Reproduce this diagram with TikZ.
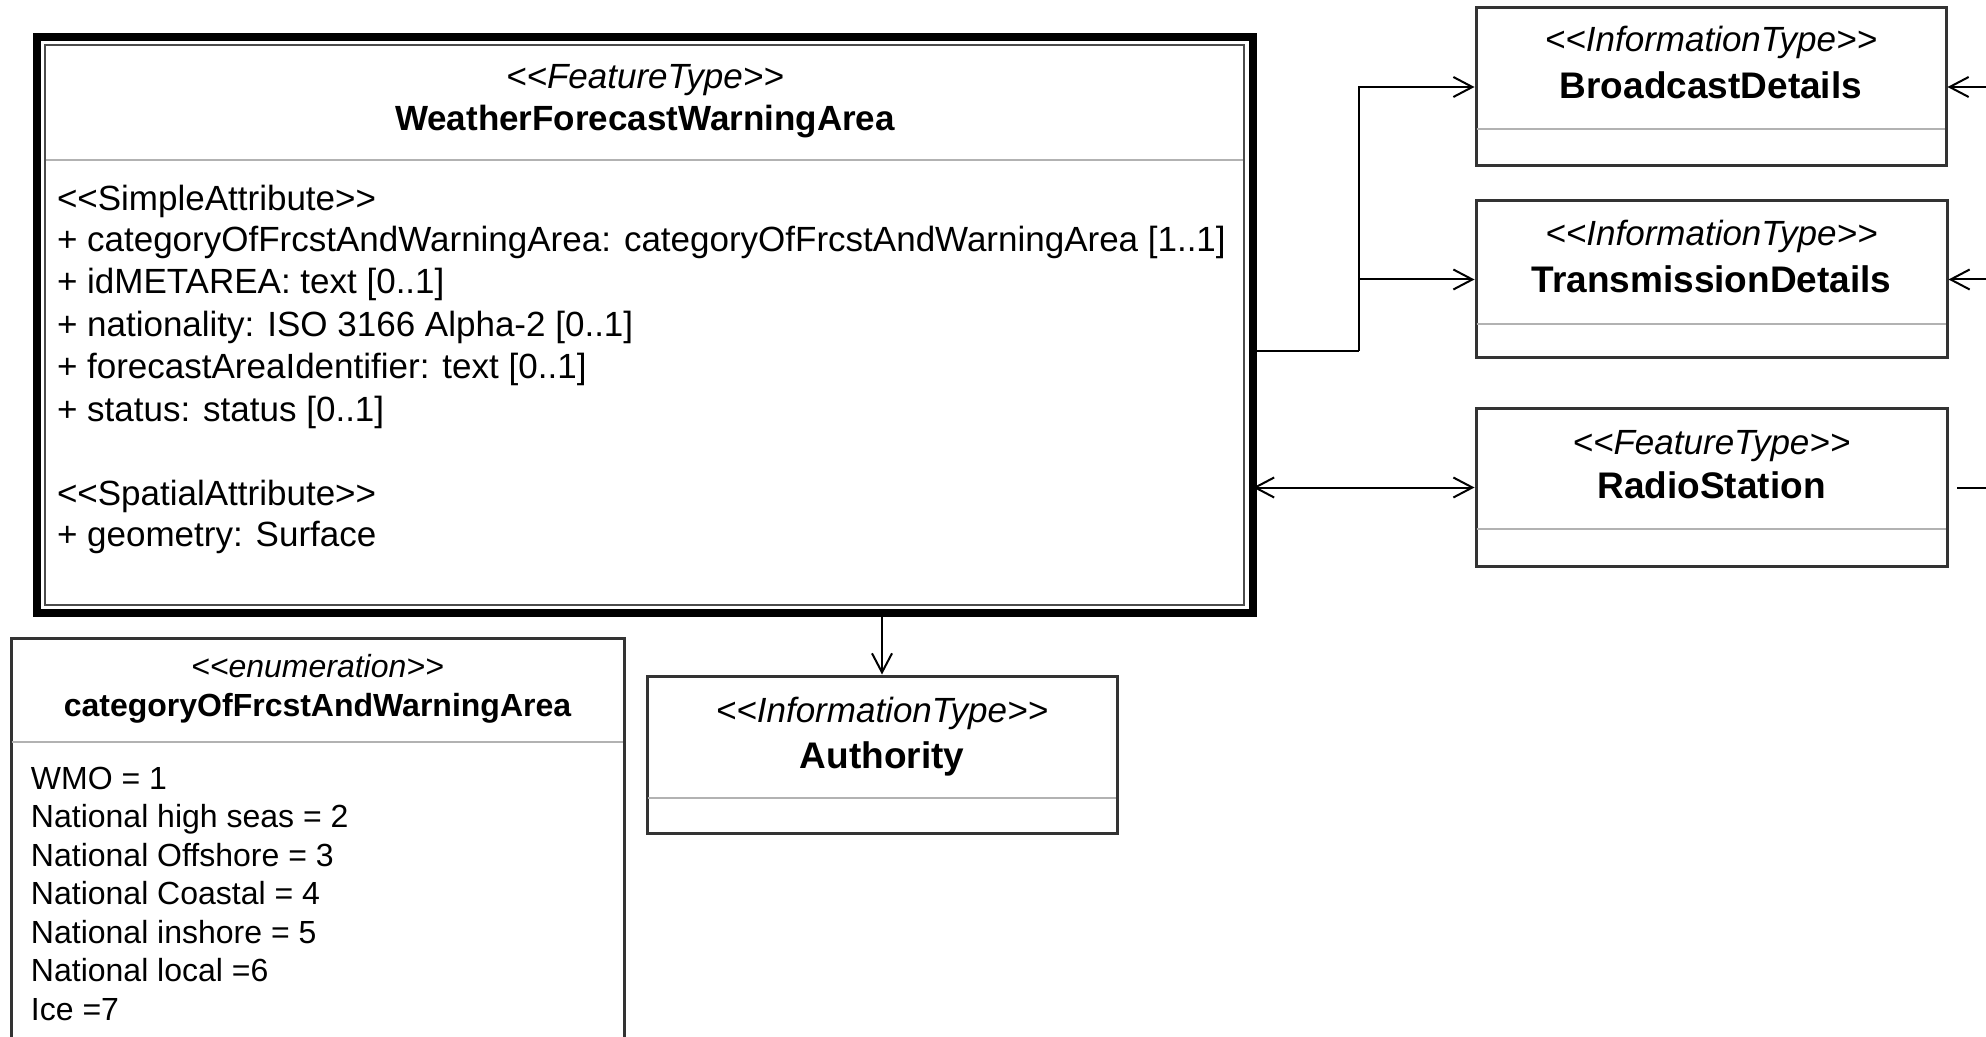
\documentclass[tikz,border=0pt]{standalone}
\usepackage{fontspec}
\setmainfont{Liberation Sans}
\usetikzlibrary{arrows.meta}

\begin{document}
\begin{tikzpicture}[x=0.5pt,y=-0.5pt,line width=1pt,
  >={Straight Barb[length=9.5pt,width=10pt]},
  umlbox/.style={draw=black!80,line width=1.5pt,rectangle,inner sep=0pt},
  sep/.style={draw=black!30,line width=1pt},
  stereo/.style={font=\fontsize{17.5}{21}\selectfont\itshape,anchor=base,inner sep=0pt},
  cname/.style={font=\fontsize{18.5}{21}\selectfont\bfseries,anchor=base,inner sep=0pt},
  attr/.style={font=\fontsize{17.5}{21}\selectfont,anchor=base west,inner sep=0pt},
  estereo/.style={font=\fontsize{16}{19}\selectfont\itshape,anchor=base,inner sep=0pt},
  ename/.style={font=\fontsize{16}{19}\selectfont\bfseries,anchor=base,inner sep=0pt},
  eitem/.style={font=\fontsize{16}{19}\selectfont,anchor=base west,inner sep=0pt}]
  \useasboundingbox[fill=white] (0,0) rectangle (1986,1037);

  % feature type with the thick frame
  \node (wfa) at (645,325) [draw,rectangle,line width=4pt,minimum width=608pt,minimum height=288pt] {};
  \draw[draw=black!70,line width=1.25pt] (45,45) rectangle (1244,605);
  \draw[sep] (46,160) -- (1243,160);
  \node (wfast) at (645,88.5) [stereo] {<{}<FeatureType>{}>};
  \node (wfanm) at (645,130.5) [cname,font=\fontsize{17.5}{21}\selectfont\bfseries] {WeatherForecastWarningArea};
  \node (sa) at (56,210.5) [attr] {<{}<SimpleAttribute>{}>};
  \node (at1) at (56,251.5) [attr] {+ categoryOfFrcstAndWarningArea: categoryOfFrcstAndWarningArea [1..1]};
  \node (at2) at (56,293.5) [attr] {+ idMETAREA: text [0..1]};
  \node (at3) at (56,336.5) [attr] {+ nationality: ISO 3166 Alpha-2 [0..1]};
  \node (at4) at (56,378.5) [attr] {+ forecastAreaIdentifier: text [0..1]};
  \node (at5) at (56,421.5) [attr] {+ status: status [0..1]};
  \node (spa) at (56,505.5) [attr] {<{}<SpatialAttribute>{}>};
  \node (at6) at (56,546.5) [attr] {+ geometry: Surface};

  % information types and radio station
  \node (bd) at (1711,87) [umlbox,minimum width=235pt,minimum height=79pt] {};
  \draw[sep] (1477,129) -- (1945,129);
  \node (bdst) at (1711,52) [stereo] {<{}<InformationType>{}>};
  \node (bdnm) at (1711,99) [cname] {BroadcastDetails};

  \node (td) at (1711.5,279.5) [umlbox,minimum width=235.5pt,minimum height=78.5pt] {};
  \draw[sep] (1477,324) -- (1946,324);
  \node (tdst) at (1711.5,246) [stereo] {<{}<InformationType>{}>};
  \node (tdnm) at (1711.5,293) [cname] {TransmissionDetails};

  \node (rs) at (1711.5,487.5) [umlbox,minimum width=235.5pt,minimum height=78.5pt] {};
  \draw[sep] (1477,529) -- (1946,529);
  \node (rsst) at (1711.5,455) [stereo] {<{}<FeatureType>{}>};
  \node (rsnm) at (1711.5,498) [cname] {RadioStation};

  \node (au) at (882,754.5) [umlbox,minimum width=235pt,minimum height=78.5pt] {};
  \draw[sep] (648,798) -- (1116,798);
  \node (aust) at (882,722) [stereo] {<{}<InformationType>{}>};
  \node (aunm) at (882,768) [cname] {Authority};

  % enumeration (runs off the bottom)
  \node (en) at (317.5,841.5) [umlbox,minimum width=306.5pt,minimum height=203.5pt] {};
  \draw[sep] (12,742) -- (623,742);
  \node (enst) at (317.5,677.5) [estereo] {<{}<enumeration>{}>};
  \node (ennm) at (317.5,716.5) [ename] {categoryOfFrcstAndWarningArea};
  \node (e1) at (30,789.5) [eitem] {WMO = 1};
  \node (e2) at (30,827.5) [eitem] {National high seas = 2};
  \node (e3) at (30,866.5) [eitem] {National Offshore = 3};
  \node (e4) at (30,904.5) [eitem] {National Coastal = 4};
  \node (e5) at (30,943.5) [eitem] {National inshore = 5};
  \node (e6) at (30,981.5) [eitem] {National local =6};
  \node (e7) at (30,1020.5) [eitem] {Ice =7};

  \coordinate (jn) at (1359,351); % branch point
  \coordinate (bdr) at (1986,87);
  \coordinate (tdr) at (1986,279.5);
  \coordinate (rsa) at (1957,487.5);
  \coordinate (rsb) at (1986,487.5);

  \draw[black] (wfa.east |- jn) -- (jn);
  \draw[->] (jn) |- (bd.west);
  \draw[->] (jn |- td.west) -- (td.west);
  \draw[<->,shorten <=-2pt] (wfa.east |- rs.west) -- (rs.west);
  \draw[->] (wfa.south -| au.north) -- (au.north);

  \draw[->] (bdr) -- (bd.east);
  \draw[->] (tdr) -- (td.east);
  \draw[black] (rsa) -- (rsb);
\end{tikzpicture}
\end{document}
